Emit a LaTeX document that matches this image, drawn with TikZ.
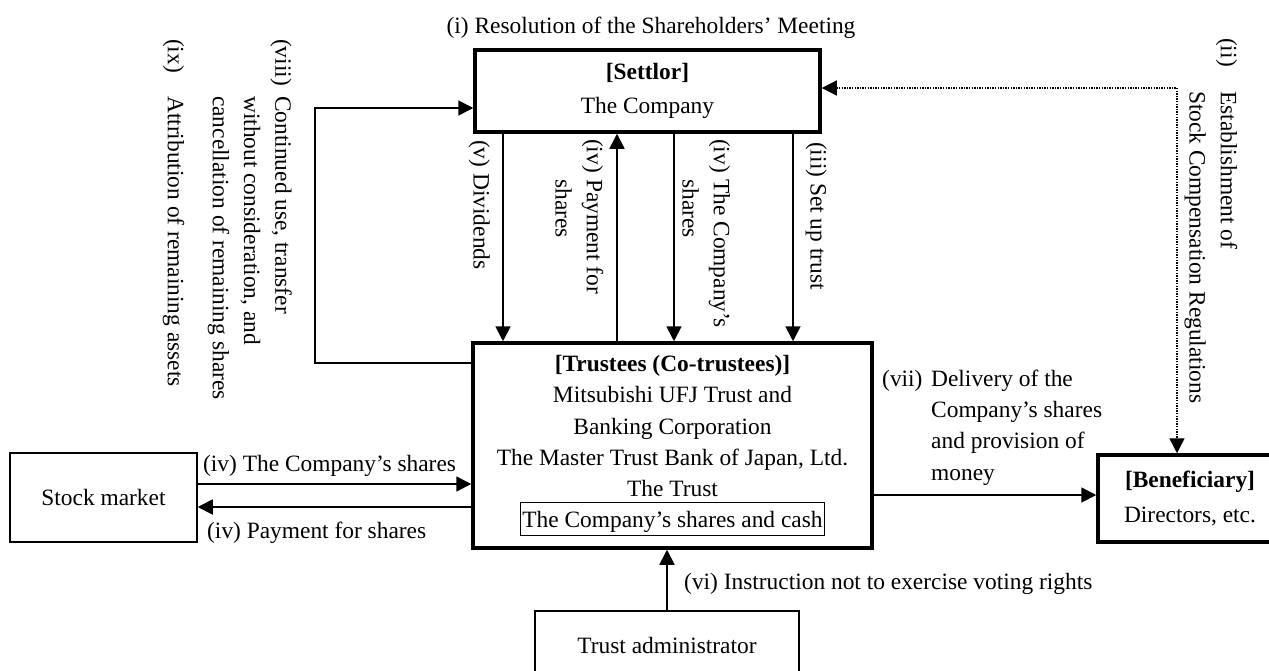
\documentclass[tikz,border=0pt]{standalone}
\usepackage{fontspec}
\setmainfont{Liberation Serif}
\usetikzlibrary{arrows.meta}

\setlength{\fboxsep}{1.5pt}
\setlength{\fboxrule}{1.3pt}
\newcommand{\numbered}[3]{\begin{tabular}{@{}p{#1}@{}l@{}}#2&#3\end{tabular}}

\tikzset{
  party/.style={draw, line width=3.5pt, align=center, inner sep=0pt},
  plainbox/.style={draw, line width=1.5pt, align=center},
  flow/.style={line width=1.8pt, -{Triangle[length=15pt,width=15pt]}},
  tag/.style={inner sep=0pt},
  vtag/.style={tag, rotate=-90, anchor=north west},
}

\begin{document}
\begin{tikzpicture}[x=1pt, y=-1pt, every node/.style={font=\fontsize{23.4}{31.3}\selectfont}]
  \useasboundingbox (0,0) rectangle (1269,670);

  % parties
  \node[party, minimum width=345pt, minimum height=82pt] (settlor) at (647.5,91) {\textbf{[Settlor]}\\[3pt]The Company};
  \node[party, minimum width=399pt, minimum height=205pt] (trustees) at (672.5,445.5) {\textbf{[Trustees (Co-trustees)]}\\Mitsubishi UFJ Trust and\\Banking Corporation\\The Master Trust Bank of Japan, Ltd.\\The Trust\\\fbox{\rule[-5pt]{0pt}{28pt}The Company's shares and cash}};
  \node[party, minimum width=184pt, minimum height=87pt] (beneficiary) at (1190,498.5) {\textbf{[Beneficiary]}\\[3pt]Directors, etc.};
  \node[plainbox, minimum width=187pt, minimum height=89pt] (market) at (103.5,497.5) {Stock market};
  \node[plainbox, minimum width=264pt, minimum height=68pt] (admin) at (667,645) {Trust administrator};

  % labels
  \node[tag, anchor=base] (resolution) at (651,33) {(i) Resolution of the Shareholders' Meeting};
  \node[vtag] (establish) at (1243,38) {\numbered{53pt}{(ii)}{Establishment of\\&Stock Compensation Regulations}};
  \node[vtag] (setup) at (827,142) {(iii) Set up trust};
  \node[vtag] (sharesdown) at (736,139) {\numbered{40pt}{(iv)}{The Company's\\&shares}};
  \node[vtag] (paymentup) at (609,139) {\numbered{40pt}{(iv)}{Payment for\\&shares}};
  \node[vtag] (dividends) at (490,140) {(v) Dividends};
  \node[vtag] (remaining) at (297.5,39) {\numbered{57pt}{(viii)}{Continued use, transfer\\&without consideration, and\\&cancellation of remaining shares}};
  \node[vtag] (attribution) at (190,39) {\numbered{57pt}{(ix)}{Attribution of remaining assets}};
  \node[tag, anchor=base west] (buy) at (203,471) {(iv) The Company's shares};
  \node[tag, anchor=base west] (pay) at (207,538) {(iv) Payment for shares};
  \node[tag, anchor=north west] (delivery) at (882,364) {\numbered{49pt}{(vii)}{Delivery of the\\&Company's shares\\&and provision of\\&money}};
  \node[tag, anchor=base west] (voting) at (684,589) {(vi) Instruction not to exercise voting rights};

  % settlor <-> trustees
  \coordinate (colv) at (503,0);
  \coordinate (coliv) at (617,0);
  \coordinate (colshares) at (674,0);
  \coordinate (coltrust) at (793,0);
  \draw[flow] (settlor.south -| colv) -- (trustees.north -| colv);
  \draw[flow] (trustees.north -| coliv) -- (settlor.south -| coliv);
  \draw[flow] (settlor.south -| colshares) -- (trustees.north -| colshares);
  \draw[flow] (settlor.south -| coltrust) -- (trustees.north -| coltrust);

  % remaining assets loop
  \coordinate (loopbot) at (315,363);
  \coordinate (looptop) at (315,108);
  \draw[flow, line width=1.5pt] (trustees.west |- loopbot) -- (loopbot) -- (looptop) -- (settlor.west |- looptop);

  % regulations
  \coordinate (regs) at (1177,88);
  \draw[line width=1.3pt, dash pattern=on 1.3pt off 1.3pt, {Triangle[length=15pt,width=15pt]}-{Triangle[length=15pt,width=15pt]}] (settlor.east |- regs) -- (regs) -- (beneficiary.north -| regs);

  % market
  \coordinate (buyline) at (0,484);
  \coordinate (payline) at (0,507);
  \draw[flow] (market.east |- buyline) -- (trustees.west |- buyline);
  \draw[flow] (trustees.west |- payline) -- (market.east |- payline);

  % delivery and voting
  \coordinate (giveline) at (0,495);
  \draw[flow] (trustees.east |- giveline) -- (beneficiary.west |- giveline);
  \draw[flow] (admin.north) -- (admin.north |- trustees.south);
\end{tikzpicture}
\end{document}
